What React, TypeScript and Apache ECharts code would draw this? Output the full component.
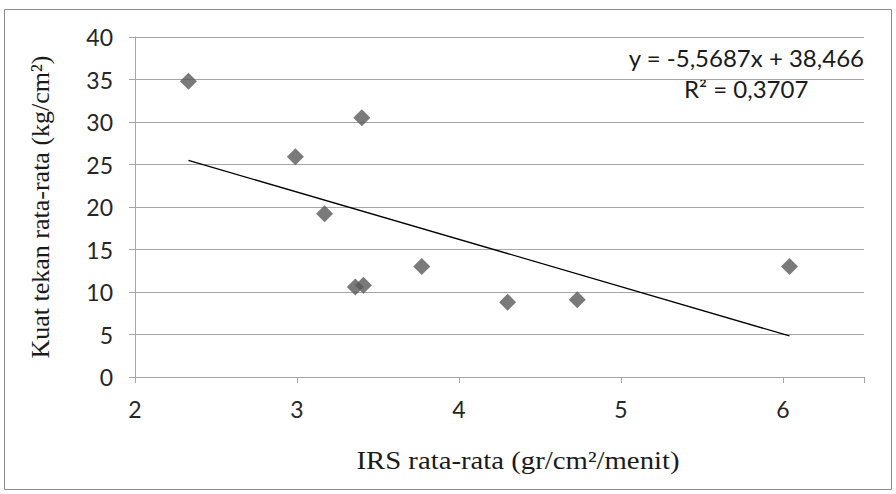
import React, { useEffect, useRef } from "react";
import * as echarts from "echarts";

const irsValues = [2.33, 2.99, 3.17, 3.4, 3.36, 3.41, 3.77, 4.3, 4.73, 6.04];
const kuatTekanValues = [34.8, 25.9, 19.2, 30.5, 10.6, 10.8, 13.0, 8.8, 9.1, 13.0];
const trendSlope = -5.5687;
const trendIntercept = 38.466;
const equationLabel = "y = -5,5687x + 38,466";
const r2Label = "R² = 0,3707";
const xAxisTitle = "IRS rata-rata (gr/cm²/menit)";
const yAxisTitle = "Kuat tekan rata-rata (kg/cm²)";

export default function App() {
  const ref = useRef<HTMLDivElement>(null);
  useEffect(() => {
    if (!ref.current) return;
    const chart = echarts.init(ref.current, null, { renderer: "svg" });
    const points = irsValues.map((x, i) => [x, kuatTekanValues[i]]);
    const xMin = Math.min(...irsValues);
    const xMax = Math.max(...irsValues);
    const trend = [
      [xMin, trendSlope * xMin + trendIntercept],
      [xMax, trendSlope * xMax + trendIntercept],
    ];
    const labelFont = "Lato, 'Noto Sans', sans-serif";
    const serif = "'Liberation Serif', 'DejaVu Serif', serif";
    chart.setOption({
      animation: false,
      backgroundColor: "#ffffff",
      grid: { left: 135, right: 32, top: 37, bottom: 117, containLabel: false },
      xAxis: {
        type: "value",
        min: 2,
        max: 6.5,
        interval: 1,
        axisLine: { show: true, lineStyle: { color: "#a6a6a6", width: 1 } },
        axisTick: { show: true, inside: false, length: 6, lineStyle: { color: "#a6a6a6" } },
        axisLabel: {
          color: "#262626",
          fontSize: 23,
          fontFamily: labelFont,
          margin: 20,
          formatter: (v: number) => (v > 6 ? "" : String(v)),
        },
        splitLine: { show: false },
      },
      yAxis: {
        type: "value",
        min: 0,
        max: 40,
        interval: 5,
        axisLine: { show: true, lineStyle: { color: "#a6a6a6", width: 1 } },
        axisTick: { show: true, inside: false, length: 6, lineStyle: { color: "#a6a6a6" } },
        axisLabel: {
          color: "#262626",
          fontSize: 23,
          fontFamily: labelFont,
          margin: 22,
        },
        splitLine: { show: true, lineStyle: { color: "#a6a6a6", width: 1 } },
        name: yAxisTitle,
        nameLocation: "middle",
        nameGap: 82,
        nameRotate: 90,
        nameTextStyle: { fontFamily: serif, fontSize: 26, color: "#1a1a1a" },
      },
      series: [
        {
          type: "line",
          data: trend,
          symbol: "none",
          lineStyle: { color: "#000000", width: 1.3 },
          z: 2,
        },
        {
          type: "scatter",
          data: points,
          symbol: "diamond",
          symbolSize: [17, 17],
          itemStyle: { color: "#595959" },
          z: 3,
        },
      ],
      graphic: [
        {
          type: "rect",
          shape: { x: 4.5, y: 9.5, width: 887, height: 480 },
          style: { fill: "none", stroke: "#8c8c8c", lineWidth: 1 },
          z: -1,
        },
        {
          type: "text",
          x: 518,
          y: 461,
          scaleX: 1.15,
          style: {
            text: xAxisTitle,
            fontSize: 25,
            fontFamily: serif,
            fill: "#1a1a1a",
            textAlign: "center",
            textVerticalAlign: "middle",
          },
        },
        {
          type: "text",
          x: 864,
          y: 57,
          style: {
            text: equationLabel,
            fontSize: 24,
            fontFamily: labelFont,
            fill: "#1a1a1a",
            textAlign: "right",
            textVerticalAlign: "middle",
          },
        },
        {
          type: "text",
          x: 684,
          y: 88,
          style: {
            text: r2Label,
            fontSize: 24,
            fontFamily: labelFont,
            fill: "#1a1a1a",
            textAlign: "left",
            textVerticalAlign: "middle",
          },
        },
      ],
    });
    return () => chart.dispose();
  }, []);
  return (
    <div
      ref={ref}
      style={{ position: "fixed", left: 0, top: 0, width: 896, height: 494 }}
    />
  );
}
